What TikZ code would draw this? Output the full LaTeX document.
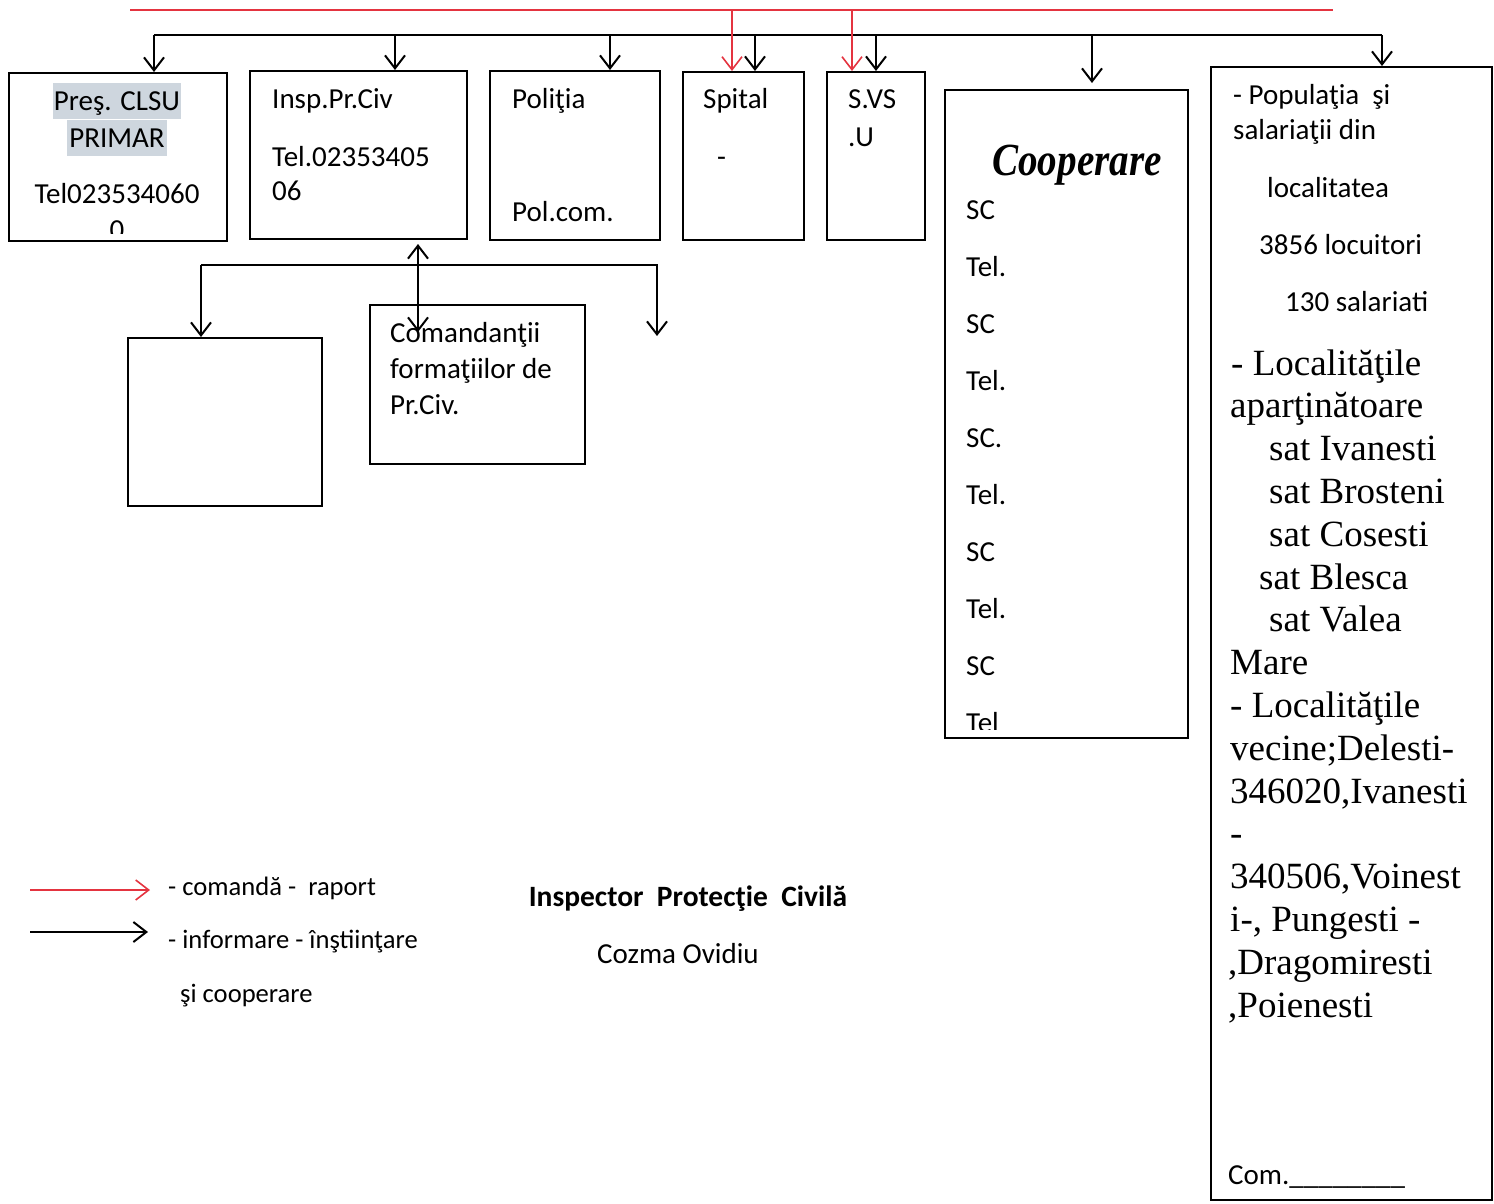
\documentclass[tikz,border=0pt]{standalone}
\usepackage{fontspec}
\setmainfont{Carlito}
\newfontfamily\tnrfont{Liberation Serif}
\newfontfamily\coopfont[FakeStretch=0.85]{Liberation Serif}
\usetikzlibrary{positioning,calc,arrows.meta}
\definecolor{cmdred}{RGB}{228,52,64}
\definecolor{hlgray}{RGB}{206,214,222}
\tikzset{
	box/.style={draw, line width=2pt, inner sep=0pt, anchor=north west},
	txt/.style={anchor=base west, inner sep=0pt, font=\fontsize{29}{35}\selectfont},
	tnr/.style={anchor=base west, inner sep=0pt, font=\tnrfont\fontsize{37}{43}\selectfont},
	lgd/.style={anchor=base west, inner sep=0pt, font=\fontsize{26.6}{32}\selectfont},
	inf/.style={line width=2pt, -{Straight Barb[length=13pt,width=20pt]}},
	cmd/.style={inf, draw=cmdred, line width=1.6pt}
}

\begin{document}
\begin{tikzpicture}[x=1pt,y=-1pt]
	\useasboundingbox (0,0) rectangle (1494,1203);

	% boxes
	\node[box, minimum width=218pt, minimum height=168pt] (pres) at (8,72) {};
	\node[box, minimum width=217pt, minimum height=168pt] (insp) at (249,70) {};
	\node[box, minimum width=170pt, minimum height=169pt] (pol) at (489,70) {};
	\node[box, minimum width=121pt, minimum height=168pt] (spit) at (682,71) {};
	\node[box, minimum width=98pt, minimum height=168pt] (svsu) at (826,71) {};
	\node[box, minimum width=243pt, minimum height=648pt] (coop) at (944,89) {};
	\node[box, minimum width=281pt, minimum height=1133pt] (pop) at (1210,66) {};
	\node[box, minimum width=194pt, minimum height=168pt] (blank) at (127,337) {};
	\node[box, minimum width=215pt, minimum height=159pt] (cmdt) at (369,304) {};

	% texts in the top boxes
	\node[txt, anchor=base, fill=hlgray, inner xsep=1pt, text height=27pt, text depth=9pt] (pres1) at (117,110) {Preş. CLSU};
	\node[txt, anchor=base, fill=hlgray, inner xsep=2pt, text height=27pt, text depth=9pt] (pres2) at (117,147) {PRIMAR};
	\node[txt, anchor=base] (pres3) at (117,203) {Tel023534060};
	\begin{scope}
		\clip (pres.north west) rectangle ([yshift=9pt]pres.south east);
		\node[txt, anchor=base] (pres4) at (117,239) {0};
	\end{scope}
	\node[txt] (insp1) at (272,108) {Insp.Pr.Civ};
	\node[txt] (insp2) at (272,166) {Tel.02353405};
	\node[txt] (insp3) at (272,200) {06};
	\node[txt] (pol1) at (512,108) {Poliţia};
	\node[txt] (pol2) at (512,221) {Pol.com.};
	\node[txt] (spit1) at (703,108) {Spital};
	\node[txt] (spit2) at (717,166) {-};
	\node[txt] (svsu1) at (848,108) {S.VS};
	\node[txt] (svsu2) at (848,146) {.U};
	\node[txt] (cmdt1) at (390,342) {Comandanţii};
	\node[txt] (cmdt2) at (390,378) {formaţiilor de};
	\node[txt] (cmdt3) at (390,414) {Pr.Civ.};

	% cooperare
	\node[anchor=base, inner sep=0pt, font=\coopfont\bfseries\itshape\fontsize{46}{50}\selectfont] (coopT) at (1077,175) {Cooperare};
	\begin{scope}
		\clip (coop.north west) rectangle ([yshift=10pt]coop.south east);
		\foreach \t [count=\i from 0] in {SC,Tel.,SC,Tel.,SC.,Tel.,SC,Tel.,SC,Tel}
			\node[txt] (coop-\i) at (966,{219+57*\i}) {\t};
	\end{scope}

	% populatia
	\node[txt] (pop1) at (1233,104) {- Populaţia \ şi};
	\node[txt] (pop2) at (1233,139) {salariaţii din};
	\node[txt] (pop3) at (1267,197) {localitatea};
	\node[txt] (pop4) at (1259,254) {3856 locuitori};
	\node[txt] (pop5) at (1285,311) {130 salariati};
	\foreach \x/\t [count=\i from 0] in {1231/- Localităţile, 1230/aparţinătoare,
		1269/sat Ivanesti, 1269/sat Brosteni, 1269/sat Cosesti, 1259/sat Blesca,
		1269/sat Valea, 1230/Mare, 1230/- Localităţile, 1230/vecine;Delesti-,
		1230/{346020,Ivanesti}, 1230/-, 1230/{340506,Voinest}, 1230/{i-, Pungesti -},
		1228/{,Dragomiresti}, 1228/{,Poienesti}}
		\node[tnr] (loc-\i) at (\x,{375+42.8*\i}) {\t};
	\node[txt] (pop6) at (1228,1184) {Com.\_\_\_\_\_\_\_\_};

	% top lines
	\coordinate (redL) at (130,10);
	\coordinate (redR) at (1333,10);
	\coordinate (busL) at (154,35);
	\coordinate (busR) at (1382,35);
	\draw[cmdred, line width=1.6pt] (redL) -- (redR);
	\draw[line width=2pt] (busL) -- (busR);
	\foreach \x/\n in {154/pres, 395/insp, 610/pol, 755/spit, 876/svsu, 1382/pop}
		\draw[inf] (\x,35) -- (\x,35 |- \n.north);
	\draw[inf] (1092,35) -- ([yshift=6pt]coop.north -| 1092,0);
	\foreach \x/\n in {732/spit, 852/svsu}
		\draw[cmd] (\x,10) -- (\x,10 |- \n.north);

	% lower lines
	\coordinate (subL) at (201,265);
	\coordinate (subR) at (657,265);
	\coordinate (subEnd) at (657,336);
	\draw[inf] (subL) -- (subR) -- (subEnd);
	\draw[inf] (subL) -- (subL |- blank.north);
	\draw[line width=2pt, {Straight Barb[length=13pt,width=20pt]}-{Straight Barb[length=13pt,width=20pt]}]
		([yshift=-4pt]insp.south -| 418,0) -- (418,332);

	% legend
	\coordinate (lgR1) at (30,890);
	\coordinate (lgR2) at (150,890);
	\coordinate (lgB1) at (30,932);
	\coordinate (lgB2) at (148,932);
	\draw[cmd] (lgR1) -- (lgR2);
	\draw[inf] (lgB1) -- (lgB2);
	\node[lgd] (lg1) at (168,895) {- comandă - \ raport};
	\node[lgd] (lg2) at (168,948) {- informare - înştiinţare};
	\node[lgd] (lg3) at (180,1002) {şi cooperare};
	\node[txt, anchor=base, font=\bfseries\fontsize{29.5}{34}\selectfont] (insptitle) at (688,906) {Inspector \ Protecţie \ Civilă};
	\node[txt, anchor=base, font=\fontsize{29}{34}\selectfont] (inspname) at (678,963) {Cozma Ovidiu};
\end{tikzpicture}
\end{document}
